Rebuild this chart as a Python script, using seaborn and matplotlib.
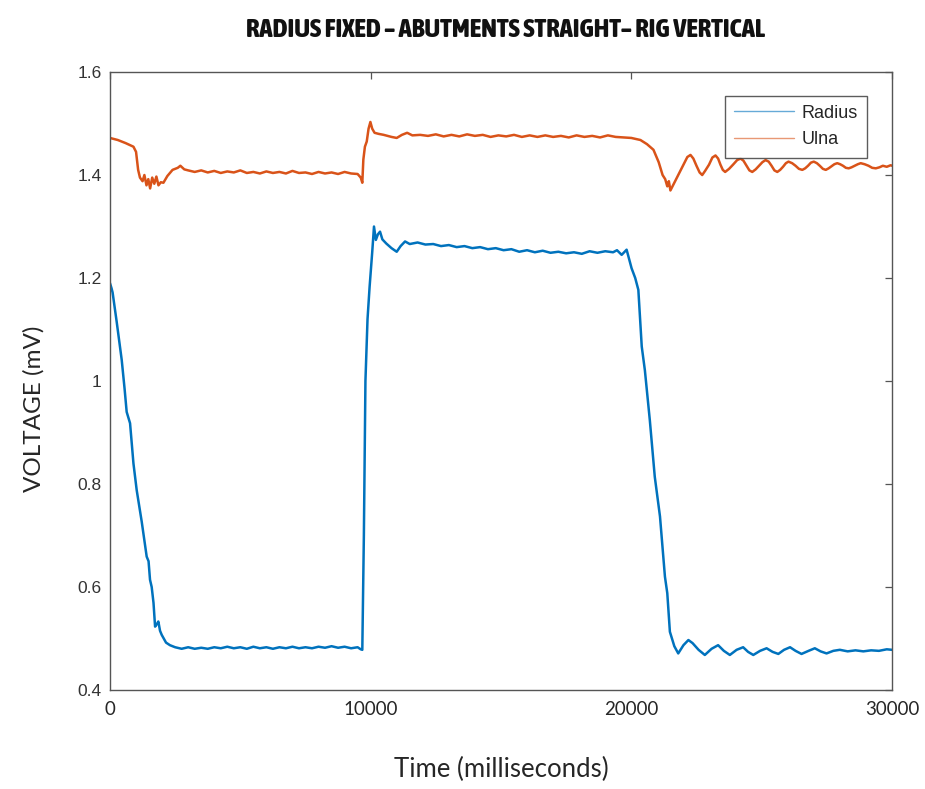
import matplotlib
matplotlib.use("Agg")
import matplotlib.pyplot as plt
from matplotlib import font_manager
import seaborn as sns
import pandas as pd

# ---------------- data ----------------
series_names = ["Radius", "Ulna"]

radius_t = [0, 60, 100, 257, 450, 560, 640, 770, 900, 1025, 1217, 1408, 1480, 1536, 1600,
            1670, 1730, 1800, 1855, 1920, 1985, 2150, 2300, 2500, 2750, 3000, 3250, 3500,
            3750, 4000, 4250, 4500, 4750, 5000, 5250, 5500, 5750, 6000, 6250, 6500, 6750,
            7000, 7250, 7500, 7750, 8000, 8250, 8500, 8750, 9000, 9250, 9500, 9620, 9680,
            9740, 9800, 9880, 9960, 10060, 10128, 10200, 10280, 10360, 10450, 10600, 10800,
            11000, 11150, 11320, 11500, 11800, 12100, 12400, 12700, 13000, 13300, 13600,
            13900, 14200, 14500, 14800, 15100, 15400, 15700, 16000, 16300, 16600, 16900,
            17200, 17500, 17800, 18100, 18400, 18700, 19000, 19300, 19450, 19630, 19820,
            20010, 20150, 20270, 20400, 20520, 20710, 20900, 21100, 21290, 21380, 21480,
            21650, 21800, 22000, 22190, 22350, 22580, 22820, 23080, 23330, 23550, 23780,
            24040, 24290, 24480, 24680, 24940, 25190, 25420, 25640, 25860, 26090, 26300,
            26530, 26800, 27040, 27260, 27490, 27750, 28000, 28300, 28600, 28900, 29200,
            29500, 29800, 30000]
radius_v = [1.190, 1.180, 1.172, 1.115, 1.041, 0.985, 0.940, 0.918, 0.840, 0.788, 0.727,
            0.659, 0.650, 0.614, 0.600, 0.569, 0.523, 0.528, 0.533, 0.515, 0.507, 0.492,
            0.487, 0.483, 0.480, 0.483, 0.480, 0.482, 0.480, 0.483, 0.481, 0.484, 0.481,
            0.483, 0.480, 0.484, 0.481, 0.483, 0.480, 0.483, 0.481, 0.484, 0.481, 0.483,
            0.481, 0.484, 0.482, 0.485, 0.482, 0.484, 0.481, 0.483, 0.479, 0.478, 0.700,
            1.000, 1.120, 1.183, 1.250, 1.300, 1.274, 1.285, 1.290, 1.275, 1.267, 1.258,
            1.251, 1.262, 1.271, 1.266, 1.269, 1.265, 1.266, 1.262, 1.264, 1.260, 1.262,
            1.258, 1.260, 1.256, 1.258, 1.254, 1.256, 1.251, 1.254, 1.250, 1.253, 1.249,
            1.251, 1.248, 1.250, 1.247, 1.252, 1.249, 1.252, 1.250, 1.254, 1.245, 1.255,
            1.219, 1.200, 1.177, 1.067, 1.021, 0.924, 0.814, 0.737, 0.620, 0.588, 0.513,
            0.485, 0.471, 0.487, 0.497, 0.491, 0.478, 0.468, 0.480, 0.487, 0.476, 0.468,
            0.478, 0.483, 0.474, 0.468, 0.476, 0.481, 0.474, 0.470, 0.478, 0.483, 0.476,
            0.470, 0.476, 0.481, 0.475, 0.471, 0.476, 0.478, 0.475, 0.477, 0.475, 0.477,
            0.476, 0.479, 0.478]

ulna_t = [0, 300, 600, 900, 1000, 1080, 1150, 1250, 1320, 1400, 1470, 1540, 1620, 1700,
          1780, 1860, 1950, 2050, 2200, 2400, 2600, 2700, 2850, 3000, 3250, 3500, 3750,
          4000, 4250, 4500, 4750, 5000, 5250, 5500, 5750, 6000, 6250, 6500, 6750, 7000,
          7250, 7500, 7750, 8000, 8250, 8500, 8750, 9000, 9250, 9500, 9620, 9680, 9720,
          9780, 9850, 9920, 9990, 10060, 10150, 10300, 10500, 10800, 11000, 11200, 11400,
          11600, 11900, 12200, 12500, 12800, 13100, 13400, 13700, 14000, 14300, 14600,
          14900, 15200, 15500, 15800, 16100, 16400, 16700, 17000, 17300, 17600, 17900,
          18200, 18500, 18800, 19100, 19400, 19700, 20000, 20350, 20600, 20850, 21050,
          21200, 21300, 21380, 21440, 21500, 21650, 21850, 22050, 22150, 22270, 22380,
          22500, 22620, 22720, 22830, 22980, 23110, 23230, 23330, 23420, 23510, 23600,
          23750, 23900, 24060, 24190, 24300, 24420, 24530, 24640, 24770, 24900, 25030,
          25150, 25270, 25380, 25490, 25600, 25710, 25820, 25930, 26030, 26170, 26300,
          26430, 26560, 26670, 26780, 26890, 27000, 27120, 27230, 27350, 27460, 27570,
          27680, 27790, 27900, 28010, 28120, 28230, 28340, 28450, 28570, 28690, 28800,
          28950, 29100, 29240, 29380, 29520, 29650, 29800, 29950, 30000]
ulna_v = [1.472, 1.468, 1.462, 1.455, 1.445, 1.410, 1.395, 1.388, 1.400, 1.380, 1.392,
          1.374, 1.395, 1.383, 1.397, 1.380, 1.386, 1.385, 1.398, 1.410, 1.414, 1.418,
          1.411, 1.409, 1.406, 1.409, 1.405, 1.408, 1.404, 1.407, 1.405, 1.409, 1.404,
          1.406, 1.403, 1.407, 1.404, 1.406, 1.403, 1.408, 1.404, 1.405, 1.402, 1.406,
          1.403, 1.405, 1.402, 1.406, 1.403, 1.402, 1.395, 1.385, 1.430, 1.455, 1.465,
          1.490, 1.503, 1.490, 1.482, 1.480, 1.478, 1.474, 1.472, 1.478, 1.482, 1.477,
          1.478, 1.476, 1.479, 1.475, 1.478, 1.475, 1.479, 1.476, 1.478, 1.474, 1.477,
          1.475, 1.478, 1.474, 1.477, 1.474, 1.477, 1.474, 1.476, 1.473, 1.477, 1.474,
          1.476, 1.473, 1.477, 1.474, 1.473, 1.472, 1.468, 1.460, 1.449, 1.425, 1.400,
          1.392, 1.378, 1.388, 1.370, 1.385, 1.405, 1.425, 1.435, 1.439, 1.432, 1.418,
          1.405, 1.400, 1.408, 1.420, 1.434, 1.438, 1.432, 1.420, 1.410, 1.406, 1.412,
          1.420, 1.429, 1.432, 1.428, 1.418, 1.409, 1.406, 1.411, 1.418, 1.425, 1.429,
          1.426, 1.418, 1.409, 1.406, 1.410, 1.416, 1.423, 1.426, 1.423, 1.418, 1.412,
          1.410, 1.413, 1.418, 1.424, 1.426, 1.423, 1.418, 1.412, 1.410, 1.413, 1.417,
          1.421, 1.423, 1.421, 1.418, 1.414, 1.413, 1.415, 1.418, 1.421, 1.423, 1.421,
          1.418, 1.414, 1.413, 1.415, 1.418, 1.416, 1.419, 1.418]

x_ticks = [0, 10000, 20000, 30000]
y_ticks = [0.4, 0.6, 0.8, 1.0, 1.2, 1.4, 1.6]
y_tick_labels = ["0.4", "0.6", "0.8", "1", "1.2", "1.4", "1.6"]
colors = ["#0072BD", "#D95319"]

title_text = "RADIUS FIXED \u2013 ABUTMENTS STRAIGHT\u2013 RIG VERTICAL"
x_label = "Time (milliseconds)"
y_label = "VOLTAGE (mV)"

# ---------------- build frame ----------------
df = pd.concat([
    pd.DataFrame({"t": radius_t, "v": radius_v, "series": series_names[0]}),
    pd.DataFrame({"t": ulna_t, "v": ulna_v, "series": series_names[1]}),
], ignore_index=True)

sns.set_style("white")
plt.rcParams["font.family"] = ["Liberation Sans", "DejaVu Sans"]


def pick_condensed_bold():
    best = None
    for f in font_manager.fontManager.ttflist:
        nm = f.name.lower()
        st = str(f.stretch).lower()
        fn = f.fname.lower()
        cond = ("condensed" in st or "narrow" in nm or "condensed" in nm
                or "condensed" in fn or "narrow" in fn)
        if not cond:
            continue
        w = f.weight if isinstance(f.weight, int) else (700 if "bold" in str(f.weight) else 400)
        score = 0
        if w >= 700:
            score += 10
        if "extra" in fn or "extra" in st or "ultra" in st:
            score += 3
        if "semi" in fn or "semi" in st:
            score -= 2
        if "italic" in fn or "oblique" in fn or f.style != "normal":
            score -= 20
        if best is None or score > best[0]:
            best = (score, f.fname)
    if best is None:
        return font_manager.FontProperties(family="DejaVu Sans", weight="bold")
    return font_manager.FontProperties(fname=best[1])


title_fp = pick_condensed_bold()

fig = plt.figure(figsize=(9.25, 7.89), dpi=100)
ax = fig.add_axes([0.1189, 0.1255, 0.8454, 0.7832])

sns.lineplot(data=df, x="t", y="v", hue="series", palette=colors, ax=ax,
             linewidth=1.8, estimator=None, sort=False)

ax.set_xlim(0, 30000)
ax.set_ylim(0.4, 1.6)
ax.set_xticks(x_ticks)
ax.set_xticklabels([str(v) for v in x_ticks], fontfamily="Lato", fontsize=13.5)
ax.set_yticks(y_ticks)
ax.set_yticklabels(y_tick_labels, fontsize=12.5, color="#333333")
ax.tick_params(direction="in", length=5, width=0.9, color="#555555",
               top=True, right=True, pad=6)
ax.tick_params(axis="x", pad=8)
for s in ax.spines.values():
    s.set_visible(True)
    s.set_color("#555555")
    s.set_linewidth(1.0)

ax.set_xlabel(x_label, fontfamily="Lato", fontsize=18.5, labelpad=28)
ax.set_ylabel(y_label, fontfamily="Lato", fontsize=17.5)
ax.yaxis.set_label_coords(-0.084, 0.455)

title_fp.set_size(20)
ttl = fig.text(0.547, 0.962, title_text, ha="center", va="center",
               fontproperties=title_fp, color="#111111")
# fit title to the reference width (~518 px)
fig.canvas.draw()
w = ttl.get_window_extent().width
if w > 0:
    title_fp.set_size(20 * 518.0 / w)
    ttl.set_fontproperties(title_fp)

leg = ax.legend(loc="upper right", bbox_to_anchor=(0.968, 0.962), fontsize=13,
                frameon=True, fancybox=False, handlelength=3.3, borderpad=0.5,
                labelspacing=0.55, handletextpad=0.45, borderaxespad=0)
leg.get_frame().set_edgecolor("#333333")
leg.get_frame().set_linewidth(1.0)
for line in leg.get_lines():
    line.set_linewidth(1.0)
    line.set_alpha(0.6)

fig.savefig("out.png", dpi=100, facecolor="white")
